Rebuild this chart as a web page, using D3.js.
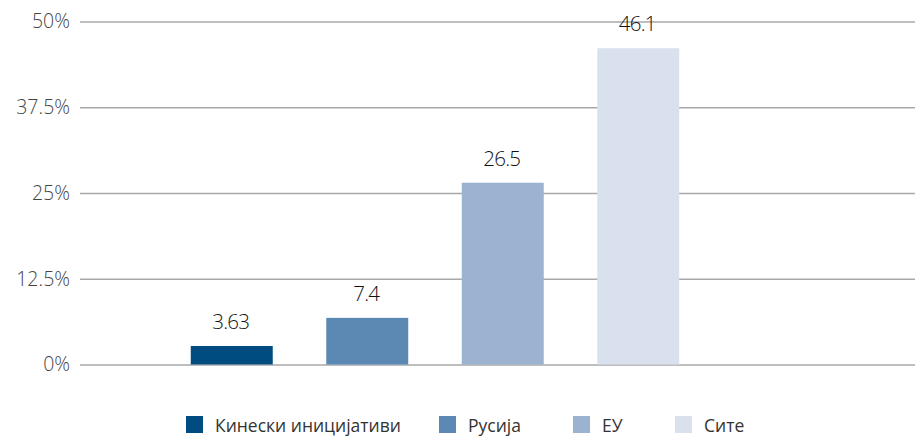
<!DOCTYPE html>
<html>
<head>
<meta charset="utf-8">
<script src="https://cdn.jsdelivr.net/npm/d3@7"></script>
<style>
  body { margin: 0; background: #fff; }
  svg { display: block; font-family: "Open Sans", sans-serif; }
</style>
</head>
<body>
<svg id="chart" width="915" height="436"></svg>
<script>
const categories = ["Кинески иницијативи", "Русија", "ЕУ", "Сите"];
// bar heights as drawn in the picture
const values = [2.7, 6.8, 26.5, 46.1];
// value labels printed above the bars
const valueLabels = ["3.63", "7.4", "26.5", "46.1"];
const yTicks = [0, 12.5, 25, 37.5, 50];
const colors = ["#004c80", "#5b89b4", "#9bb2d0", "#d9e1ee"];

const svg = d3.select("svg#chart");

// plot area
const left = 80, right = 915;
const yScale = d3.scaleLinear().domain([0, 50]).range([364.5, 21.5]);

const xScale = d3.scaleBand()
  .domain(categories)
  .range([164, 706])
  .paddingInner(0.395)
  .paddingOuter(0.1975);

// gridlines + tick labels
const yAxis = svg.append("g")
  .attr("transform", `translate(${left}, 0)`)
  .call(d3.axisLeft(yScale)
    .tickValues(yTicks)
    .tickSize(-(right - left))
    .tickPadding(10)
    .tickFormat(d => d + "%"));
yAxis.select(".domain").remove();
yAxis.selectAll(".tick line")
  .attr("stroke", "#a8a8a8")
  .attr("stroke-width", 1.5);
yAxis.selectAll(".tick text")
  .attr("fill", "#444")
  .attr("font-size", 19.5)
  .attr("font-weight", 300)
  .attr("font-family", "Open Sans, sans-serif");

// bars
svg.append("g")
  .selectAll("rect")
  .data(categories)
  .enter()
  .append("rect")
  .attr("x", d => xScale(d))
  .attr("width", xScale.bandwidth())
  .attr("y", (d, i) => yScale(values[i]))
  .attr("height", (d, i) => yScale(0) - yScale(values[i]))
  .attr("fill", (d, i) => colors[i]);

// value labels
svg.append("g")
  .selectAll("text")
  .data(categories)
  .enter()
  .append("text")
  .attr("x", d => xScale(d) + xScale.bandwidth() / 2 - 1)
  .attr("y", (d, i) => yScale(values[i]) - 17)
  .attr("text-anchor", "middle")
  .attr("font-size", 20.5)
  .attr("font-weight", 300)
  .attr("letter-spacing", -0.8)
  .attr("fill", "#111")
  .text((d, i) => valueLabels[i]);

// legend
const legendX = [186, 439, 573, 675];
const legend = svg.append("g")
  .selectAll("g")
  .data(categories)
  .enter()
  .append("g")
  .attr("transform", (d, i) => `translate(${legendX[i]}, 416)`);
legend.append("rect")
  .attr("width", 17)
  .attr("height", 17)
  .attr("fill", (d, i) => colors[i]);
legend.append("text")
  .attr("x", 29)
  .attr("y", 15.5)
  .attr("font-size", 17.5)
  .attr("fill", "#333")
  .text(d => d);
</script>
</body>
</html>
